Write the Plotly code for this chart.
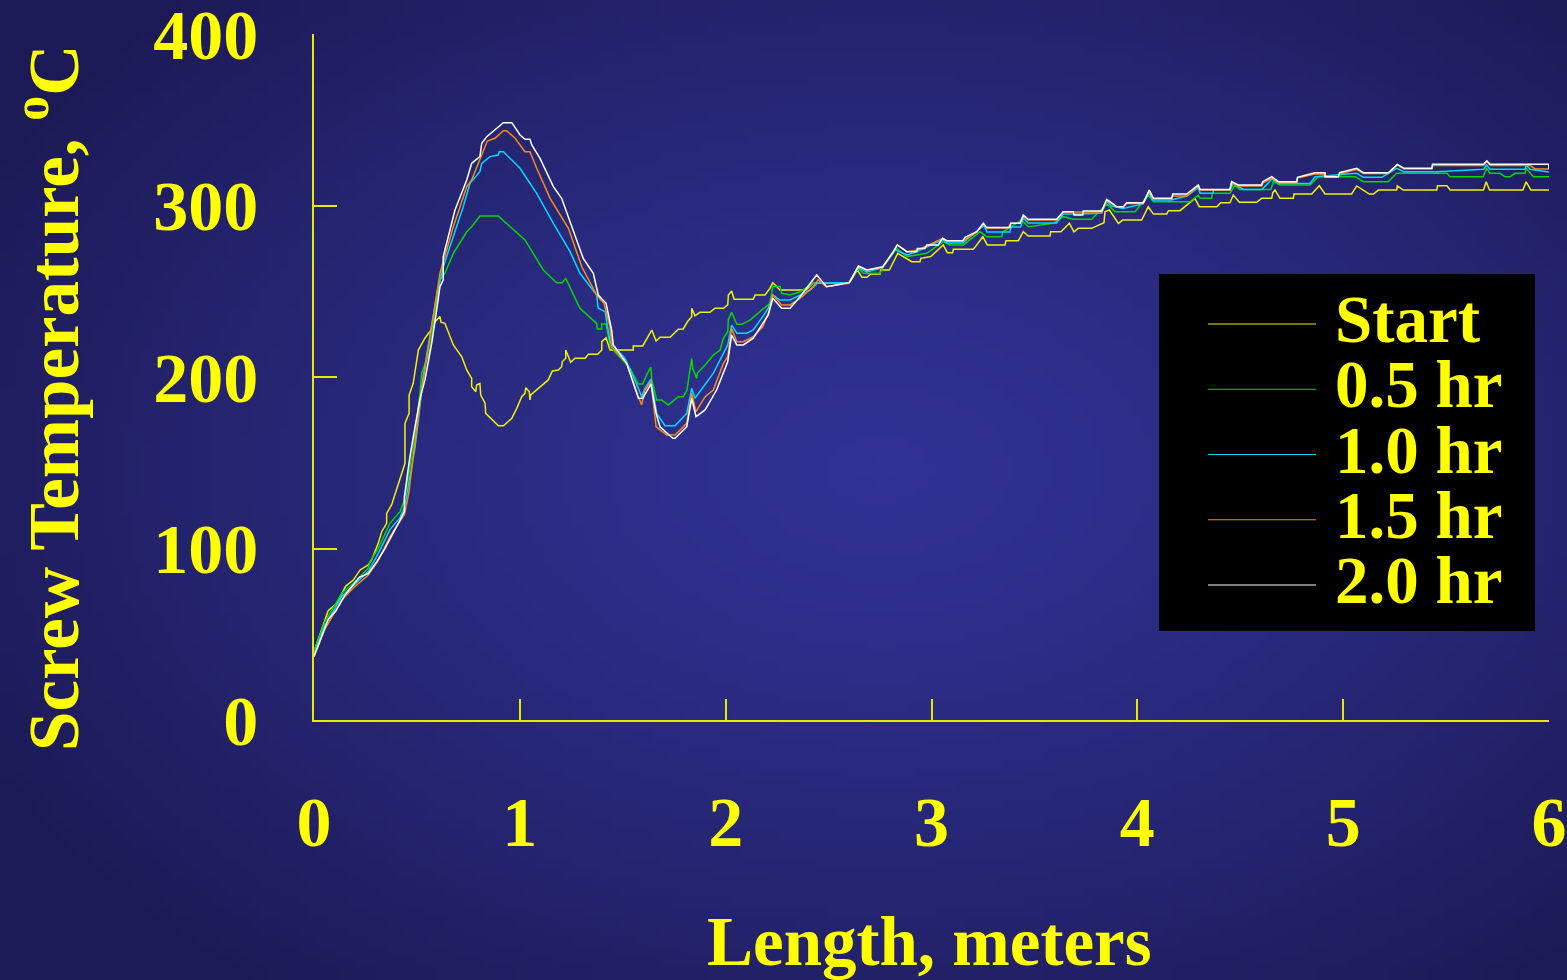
import base64
import struct
import zlib

import plotly.graph_objects as go

# ---------------------------------------------------------------- data
# Screw temperature (deg C) along the screw length (m) for successive times.
SERIES_NAMES = ["Start", "0.5 hr", "1.0 hr", "1.5 hr", "2.0 hr"]
SERIES_COLORS = ["#f2f200", "#00d800", "#00d8ff", "#ff8a10", "#ffffff"]

START = [
    (0.000, 40.0), (0.069, 63.7), (0.113, 68.4), (0.154, 78.1), (0.191, 81.6), (0.224, 87.5), (0.264, 90.4),
    (0.280, 93.3), (0.312, 103.0), (0.329, 109.8), (0.353, 114.7), (0.353, 120.5), (0.377, 125.4), (0.426, 142.9),
    (0.442, 149.7), (0.442, 173.0), (0.462, 178.8), (0.462, 189.5), (0.482, 196.3), (0.507, 215.7), (0.539, 222.6),
    (0.572, 228.0), (0.588, 232.2), (0.612, 235.2), (0.617, 232.0), (0.636, 231.3), (0.677, 218.7), (0.718, 211.8),
    (0.742, 204.1), (0.766, 199.2), (0.766, 194.3), (0.786, 191.4), (0.790, 195.3), (0.806, 196.3), (0.810, 189.5),
    (0.831, 184.7), (0.834, 178.8), (0.896, 171.6), (0.920, 171.6), (0.961, 175.9), (0.985, 181.7), (1.009, 188.5),
    (1.025, 190.5), (1.029, 193.8), (1.046, 191.4), (1.049, 186.6), (1.053, 189.5), (1.138, 198.3), (1.158, 203.5),
    (1.187, 204.1), (1.203, 206.0), (1.206, 208.9), (1.223, 210.9), (1.223, 215.7), (1.236, 211.5), (1.247, 208.6),
    (1.268, 210.9), (1.317, 210.9), (1.333, 213.2), (1.378, 213.2), (1.398, 215.7), (1.398, 220.6), (1.419, 222.9),
    (1.438, 215.7), (1.551, 215.7), (1.551, 218.1), (1.597, 218.1), (1.641, 227.4), (1.662, 221.0), (1.681, 223.2),
    (1.730, 223.2), (1.770, 227.8), (1.794, 228.0), (1.814, 232.2), (1.835, 235.2), (1.835, 240.1), (1.851, 235.7),
    (1.875, 237.7), (1.924, 237.7), (1.948, 240.1), (1.989, 240.1), (2.010, 242.0), (2.013, 247.8), (2.029, 250.1),
    (2.041, 245.3), (2.134, 245.3), (2.143, 247.8), (2.191, 247.8), (2.215, 251.7), (2.229, 255.0), (2.264, 250.7),
    (2.390, 250.7), (2.424, 254.6), (2.601, 255.0), (2.640, 262.4), (2.662, 258.1), (2.686, 258.1), (2.705, 260.1),
    (2.750, 260.1), (2.753, 262.4), (2.795, 262.4), (2.815, 267.2), (2.836, 272.1), (2.904, 267.2), (2.944, 267.2),
    (2.948, 269.2), (2.996, 270.2), (3.057, 277.0), (3.077, 272.5), (3.103, 272.5), (3.106, 274.5), (3.203, 274.5),
    (3.211, 275.6), (3.249, 281.8), (3.271, 277.0), (3.357, 277.0), (3.362, 279.5), (3.422, 279.5), (3.446, 284.7),
    (3.470, 282.2), (3.576, 282.2), (3.579, 284.7), (3.629, 284.7), (3.670, 289.6), (3.692, 284.7), (3.713, 286.7),
    (3.778, 286.7), (3.838, 290.0), (3.843, 296.4), (3.864, 297.4), (3.908, 289.6), (3.929, 291.5), (4.021, 291.5),
    (4.053, 299.3), (4.078, 295.0), (4.143, 295.0), (4.151, 297.0), (4.207, 297.0), (4.253, 301.6), (4.280, 304.2),
    (4.301, 299.3), (4.386, 299.3), (4.405, 301.6), (4.450, 301.6), (4.466, 306.1), (4.496, 301.9), (4.580, 301.9),
    (4.604, 304.2), (4.653, 304.2), (4.658, 307.5), (4.669, 309.0), (4.693, 304.2), (4.758, 304.2), (4.761, 306.7),
    (4.847, 306.7), (4.884, 311.5), (4.912, 306.7), (5.041, 306.7), (5.066, 311.4), (5.098, 309.0), (5.127, 306.7),
    (5.147, 306.7), (5.171, 309.0), (5.260, 309.0), (5.263, 311.5), (5.292, 309.0), (5.455, 309.0), (5.458, 311.5),
    (5.504, 311.5), (5.520, 309.0), (5.682, 309.0), (5.695, 313.8), (5.711, 309.0), (5.873, 309.0), (5.889, 313.8),
    (5.912, 309.0), (6.000, 309.0),
]

HR_05 = [
    (0.000, 40.0), (0.053, 57.3), (0.135, 73.9), (0.191, 79.7), (0.264, 88.5), (0.272, 92.3), (0.312, 100.1),
    (0.369, 114.7), (0.418, 121.5), (0.439, 128.3), (0.458, 141.9), (0.482, 159.4), (0.499, 174.9), (0.515, 190.5),
    (0.523, 202.2), (0.560, 214.0), (0.585, 235.0), (0.612, 256.6), (0.636, 260.5), (0.677, 272.1), (0.742, 284.7),
    (0.766, 287.6), (0.806, 293.9), (0.895, 293.9), (1.025, 279.9), (1.074, 270.2), (1.114, 262.4), (1.179, 255.0),
    (1.206, 255.0), (1.223, 257.5), (1.292, 240.1), (1.373, 231.3), (1.376, 228.0), (1.398, 228.0), (1.398, 230.9),
    (1.419, 230.9), (1.438, 218.7), (1.454, 215.7), (1.535, 205.1), (1.576, 195.9), (1.597, 195.9), (1.616, 201.2),
    (1.637, 205.7), (1.641, 198.3), (1.665, 186.6), (1.689, 186.6), (1.721, 183.7), (1.770, 188.5), (1.794, 188.5),
    (1.812, 192.4), (1.835, 210.9), (1.840, 205.1), (1.859, 199.2), (1.862, 202.2), (1.900, 207.0), (1.940, 212.8),
    (1.973, 215.7), (1.989, 222.6), (2.010, 226.4), (2.013, 233.6), (2.029, 237.7), (2.054, 230.7), (2.078, 230.7),
    (2.118, 233.2), (2.199, 241.0), (2.215, 243.0), (2.229, 252.7), (2.264, 252.7), (2.272, 248.8), (2.313, 247.8),
    (2.361, 249.7), (2.426, 254.6), (2.450, 255.0), (2.599, 255.0), (2.644, 263.4), (2.669, 260.5), (2.750, 260.5),
    (2.766, 264.3), (2.831, 275.0), (2.880, 270.2), (2.977, 272.1), (3.057, 278.9), (3.090, 277.0), (3.155, 277.0),
    (3.236, 284.7), (3.268, 281.8), (3.341, 281.8), (3.347, 284.7), (3.438, 291.5), (3.470, 287.6), (3.592, 289.6),
    (3.640, 293.5), (3.689, 292.0), (3.778, 292.0), (3.851, 300.9), (3.875, 298.4), (3.892, 296.4), (3.989, 296.4),
    (4.053, 306.1), (4.078, 302.2), (4.256, 302.2), (4.296, 306.0), (4.305, 304.2), (4.361, 304.2), (4.365, 307.1),
    (4.450, 307.1), (4.474, 311.9), (4.498, 309.4), (4.649, 309.4), (4.661, 313.9), (4.693, 312.0), (4.839, 312.0),
    (4.879, 316.8), (5.058, 316.8), (5.098, 313.9), (5.219, 313.9), (5.260, 318.8), (5.504, 318.8), (5.520, 316.8),
    (5.680, 316.8), (5.697, 321.7), (5.713, 318.8), (5.762, 318.8), (5.786, 316.8), (5.811, 316.8), (5.835, 318.8),
    (5.884, 318.8), (5.889, 321.7), (5.924, 316.8), (6.000, 316.8),
]

HR_10 = [
    (0.000, 38.0), (0.053, 55.0), (0.135, 72.0), (0.191, 78.5), (0.264, 86.5), (0.312, 97.0), (0.369, 111.0),
    (0.418, 118.0), (0.440, 124.0), (0.460, 138.0), (0.490, 158.0), (0.510, 178.0), (0.530, 200.0), (0.560, 222.0),
    (0.600, 250.0), (0.628, 264.3), (0.677, 281.8), (0.725, 299.3), (0.758, 312.9), (0.806, 319.7), (0.815, 324.6),
    (0.855, 328.5), (0.895, 329.4), (0.900, 331.4), (0.920, 331.4), (1.001, 321.7), (1.033, 315.9), (1.082, 307.1),
    (1.163, 289.6), (1.244, 273.1), (1.292, 260.5), (1.373, 247.8), (1.381, 240.1), (1.414, 238.1), (1.438, 220.6),
    (1.511, 210.9), (1.576, 193.4), (1.592, 188.5), (1.608, 193.4), (1.637, 198.7), (1.665, 178.8), (1.705, 171.6),
    (1.754, 171.6), (1.811, 178.8), (1.835, 193.4), (1.851, 187.6), (1.940, 202.2), (1.992, 214.8), (2.010, 218.7),
    (2.029, 230.3), (2.054, 225.5), (2.102, 225.5), (2.134, 227.4), (2.180, 235.2), (2.207, 240.1), (2.229, 247.8),
    (2.264, 244.9), (2.313, 244.9), (2.410, 250.7), (2.449, 255.0), (2.599, 255.0), (2.644, 263.6), (2.686, 261.2),
    (2.760, 263.6), (2.823, 274.1), (2.881, 271.1), (2.930, 273.1), (2.977, 275.8), (3.054, 280.2), (3.075, 278.1),
    (3.152, 278.1), (3.226, 285.7), (3.255, 288.3), (3.270, 284.5), (3.381, 284.5), (3.386, 287.5), (3.433, 287.5),
    (3.446, 292.7), (3.470, 289.8), (3.608, 289.8), (3.640, 295.0), (3.736, 295.0), (3.827, 295.6), (3.851, 302.6),
    (3.875, 299.7), (3.930, 298.3), (4.028, 300.9), (4.057, 307.3), (4.076, 303.2), (4.167, 303.2), (4.240, 305.5),
    (4.295, 310.2), (4.305, 307.1), (4.369, 307.1), (4.369, 309.0), (4.450, 309.0), (4.466, 312.9), (4.515, 309.4),
    (4.606, 309.4), (4.653, 315.3), (4.693, 312.9), (4.839, 312.9), (4.863, 316.8), (5.066, 318.8), (5.098, 316.4),
    (5.188, 316.4), (5.260, 321.7), (5.296, 319.7), (5.455, 319.7), (5.682, 321.1), (5.697, 323.6), (5.713, 321.1),
    (5.884, 321.1), (5.889, 323.6), (5.908, 321.1), (6.000, 319.5),
]

HR_15 = [
    (0.000, 37.0), (0.053, 53.0), (0.135, 70.0), (0.191, 77.0), (0.264, 84.5), (0.312, 93.0), (0.369, 107.0),
    (0.418, 116.0), (0.440, 120.0), (0.460, 132.0), (0.480, 152.0), (0.500, 170.0), (0.520, 190.0), (0.550, 213.0),
    (0.580, 236.0), (0.612, 260.5), (0.677, 287.6), (0.742, 311.0), (0.766, 314.9), (0.806, 326.5), (0.842, 337.6),
    (0.879, 339.2), (0.920, 343.6), (0.936, 343.6), (0.977, 339.2), (1.001, 335.3), (1.025, 331.4), (1.049, 331.4),
    (1.082, 321.7), (1.147, 304.2), (1.236, 286.7), (1.301, 264.3), (1.373, 247.8), (1.409, 243.0), (1.438, 229.3),
    (1.446, 217.7), (1.519, 208.0), (1.576, 188.5), (1.592, 183.7), (1.608, 192.4), (1.637, 197.3), (1.662, 171.0),
    (1.714, 166.2), (1.754, 166.2), (1.811, 173.0), (1.835, 190.5), (1.856, 179.8), (1.900, 188.5), (1.940, 192.4),
    (1.989, 208.0), (2.010, 211.8), (2.029, 228.3), (2.054, 220.6), (2.086, 220.6), (2.134, 223.5), (2.180, 229.3),
    (2.207, 237.1), (2.229, 247.8), (2.272, 242.0), (2.313, 242.0), (2.361, 245.9), (2.426, 252.7), (2.449, 256.6),
    (2.488, 252.7), (2.599, 254.8), (2.644, 264.4), (2.686, 262.4), (2.763, 263.8), (2.815, 273.1), (2.834, 277.0),
    (2.880, 273.1), (2.930, 274.1), (2.977, 276.4), (3.054, 280.8), (3.074, 279.3), (3.152, 279.3), (3.220, 284.5),
    (3.252, 289.2), (3.268, 286.9), (3.372, 286.9), (3.385, 289.6), (3.430, 289.6), (3.446, 293.9), (3.470, 291.5),
    (3.608, 291.5), (3.640, 296.2), (3.827, 296.2), (3.851, 303.2), (3.875, 301.2), (3.900, 299.1), (3.932, 299.1),
    (3.948, 301.2), (4.029, 301.2), (4.058, 308.5), (4.078, 303.8), (4.167, 303.8), (4.172, 305.5), (4.240, 305.5),
    (4.296, 311.4), (4.305, 309.0), (4.450, 309.0), (4.458, 313.4), (4.490, 311.4), (4.604, 311.4), (4.609, 313.1),
    (4.653, 316.0), (4.685, 313.4), (4.775, 313.4), (4.778, 316.0), (4.863, 318.4), (4.912, 318.4), (4.912, 316.6),
    (4.977, 316.6), (4.982, 318.4), (5.066, 321.0), (5.098, 318.7), (5.219, 318.7), (5.263, 323.6), (5.296, 321.3),
    (5.431, 321.3), (5.434, 323.3), (5.682, 323.3), (5.698, 325.6), (5.714, 323.3), (5.909, 323.3), (5.933, 321.3),
    (6.000, 321.3),
]

HR_20 = [
    (0.000, 37.0), (0.069, 58.7), (0.107, 63.7), (0.151, 72.9), (0.220, 83.2), (0.264, 85.5), (0.305, 92.3),
    (0.345, 100.1), (0.418, 116.6), (0.439, 121.5), (0.439, 130.2), (0.466, 153.5), (0.491, 171.0), (0.515, 187.4),
    (0.539, 198.3), (0.572, 219.7), (0.596, 239.1), (0.612, 252.7), (0.628, 256.6), (0.628, 270.2), (0.685, 297.4),
    (0.742, 314.9), (0.766, 324.6), (0.806, 328.5), (0.815, 336.3), (0.839, 340.1), (0.920, 348.3), (0.961, 348.3),
    (1.001, 341.1), (1.025, 338.6), (1.049, 338.6), (1.058, 335.3), (1.098, 327.5), (1.163, 311.0), (1.203, 304.2),
    (1.308, 269.2), (1.357, 260.5), (1.381, 247.8), (1.419, 243.0), (1.446, 227.4), (1.454, 218.7), (1.519, 208.0),
    (1.576, 187.6), (1.597, 187.6), (1.637, 195.9), (1.662, 178.8), (1.681, 171.0), (1.743, 164.3), (1.754, 164.3),
    (1.811, 171.0), (1.835, 187.6), (1.856, 176.9), (1.900, 180.8), (1.956, 192.4), (2.010, 208.9), (2.029, 224.5),
    (2.054, 218.7), (2.086, 218.7), (2.134, 222.6), (2.207, 236.2), (2.229, 245.9), (2.272, 240.1), (2.313, 240.1),
    (2.361, 246.8), (2.442, 259.5), (2.491, 252.7), (2.601, 255.0), (2.645, 264.7), (2.686, 262.4), (2.763, 264.3),
    (2.815, 273.1), (2.834, 277.0), (2.880, 273.1), (2.928, 273.1), (2.931, 275.0), (2.968, 275.0), (2.977, 277.0),
    (3.033, 277.0), (3.054, 280.9), (3.074, 279.5), (3.152, 279.5), (3.163, 281.5), (3.220, 284.7), (3.252, 289.6),
    (3.268, 287.1), (3.381, 287.1), (3.385, 289.6), (3.430, 289.6), (3.446, 294.5), (3.470, 292.0), (3.608, 292.0),
    (3.640, 296.4), (3.689, 296.4), (3.692, 294.5), (3.735, 294.5), (3.737, 296.8), (3.827, 296.8), (3.851, 303.6),
    (3.875, 301.6), (3.900, 299.3), (3.932, 299.3), (3.948, 301.6), (4.029, 301.6), (4.058, 309.0), (4.078, 304.2),
    (4.167, 304.2), (4.172, 306.7), (4.240, 306.7), (4.296, 312.0), (4.305, 309.4), (4.450, 309.4), (4.458, 313.9),
    (4.490, 312.0), (4.604, 312.0), (4.609, 313.9), (4.653, 316.8), (4.685, 313.9), (4.775, 313.9), (4.778, 316.4),
    (4.863, 319.1), (4.912, 319.1), (4.912, 316.8), (4.977, 316.8), (4.982, 319.1), (5.066, 321.7), (5.098, 319.1),
    (5.219, 319.1), (5.263, 324.0), (5.296, 321.7), (5.431, 321.7), (5.434, 324.0), (5.682, 324.0), (5.698, 326.1),
    (5.714, 324.0), (5.998, 324.0), (6.000, 321.3),
]

SERIES = [START, HR_05, HR_10, HR_15, HR_20]

X_TICKS = [0, 1, 2, 3, 4, 5, 6]
Y_TICKS = [0, 100, 200, 300, 400]

# ---------------------------------------------------------------- styling
W, H = 1567, 980
M_L, M_R, M_T, M_B = 314, 18, 34, 260
PLOT_W = W - M_L - M_R
PLOT_H = H - M_T - M_B

YELLOW = "#ffff00"
AXIS_YELLOW = "#e8e800"
FONT = "Liberation Serif, Times New Roman, serif"


def px_to_paper_x(px):
    return (px - M_L) / PLOT_W


def px_to_paper_y(py):
    return (H - M_B - py) / PLOT_H


def radial_background_png(w, h):
    """Small PNG with a soft radial blue glow, stretched over the page."""
    c_in = (48, 50, 148)
    c_out = (28, 26, 86)
    cx, cy, rx, ry = 880.0, 470.0, 1000.0, 660.0
    raw = bytearray()
    for j in range(h):
        raw.append(0)
        for i in range(w):
            dx = ((i + 0.5) / w * W - cx) / rx
            dy = ((j + 0.5) / h * H - cy) / ry
            t = min(1.0, (dx * dx + dy * dy) ** 0.5) ** 1.3
            raw.extend(int(round(a + (b - a) * t)) for a, b in zip(c_in, c_out))

    def chunk(tag, data):
        return (struct.pack(">I", len(data)) + tag + data
                + struct.pack(">I", zlib.crc32(tag + data) & 0xFFFFFFFF))

    png = (b"\x89PNG\r\n\x1a\n"
           + chunk(b"IHDR", struct.pack(">IIBBBBB", w, h, 8, 2, 0, 0, 0))
           + chunk(b"IDAT", zlib.compress(bytes(raw), 9))
           + chunk(b"IEND", b""))
    return "data:image/png;base64," + base64.b64encode(png).decode("ascii")


fig = go.Figure()

for name, color, pts in zip(SERIES_NAMES, SERIES_COLORS, SERIES):
    xs, ys = zip(*pts)
    fig.add_trace(go.Scatter(
        x=list(xs), y=list(ys), mode="lines", name=name,
        line=dict(color=color, width=1.5), showlegend=False, hoverinfo="skip",
    ))

tick_font = dict(family=FONT, size=70, color=YELLOW, weight="bold")

fig.update_xaxes(
    range=[0, 6], tickvals=X_TICKS, ticktext=[str(v) for v in X_TICKS],
    showline=True, linecolor=AXIS_YELLOW, linewidth=1.5,
    ticks="inside", ticklen=21, tickwidth=1.5, tickcolor=AXIS_YELLOW,
    showgrid=False, zeroline=False, tickfont=tick_font, ticklabelstandoff=40,
    ticklabeloverflow="allow", automargin=False,
)
fig.update_yaxes(
    range=[0, 400], tickvals=Y_TICKS, ticktext=[str(v) for v in Y_TICKS],
    showline=True, linecolor=AXIS_YELLOW, linewidth=1.5,
    ticks="inside", ticklen=23, tickwidth=1.5, tickcolor=AXIS_YELLOW,
    showgrid=False, zeroline=False, tickfont=tick_font, ticklabelstandoff=40,
    ticklabeloverflow="allow", automargin=False,
)

annotations = [
    dict(text="Screw Temperature, <sup>o</sup>C", textangle=-90,
         xref="paper", yref="paper", x=px_to_paper_x(49), y=px_to_paper_y(398),
         xanchor="center", yanchor="middle", showarrow=False,
         font=dict(family=FONT, size=71, color=YELLOW, weight="bold")),
    dict(text="Length, meters",
         xref="paper", yref="paper", x=px_to_paper_x(929), y=px_to_paper_y(942),
         xanchor="center", yanchor="middle", showarrow=False,
         font=dict(family=FONT, size=69, color=YELLOW, weight="bold")),
]

# Legend panel: black box, sample strokes and labels
shapes = [dict(type="rect", xref="paper", yref="paper", layer="above",
               x0=px_to_paper_x(1159), x1=px_to_paper_x(1535),
               y0=px_to_paper_y(631), y1=px_to_paper_y(274),
               fillcolor="#000000", line=dict(width=0))]

row_top, row_step = 324, 65.25
for k, (name, color) in enumerate(zip(SERIES_NAMES, SERIES_COLORS)):
    ly = row_top + k * row_step
    shapes.append(dict(type="line", xref="paper", yref="paper", layer="above",
                       x0=px_to_paper_x(1208), x1=px_to_paper_x(1316),
                       y0=px_to_paper_y(ly), y1=px_to_paper_y(ly),
                       line=dict(color=color, width=1.2)))
    annotations.append(dict(text=name, xref="paper", yref="paper",
                            x=px_to_paper_x(1333), y=px_to_paper_y(ly - 5),
                            xanchor="left", yanchor="middle", showarrow=False,
                            height=62, valign="middle",
                            font=dict(family=FONT, size=67, color=YELLOW, weight="bold")))

fig.update_layout(
    width=W, height=H,
    margin=dict(l=M_L, r=M_R, t=M_T, b=M_B, pad=0),
    paper_bgcolor="#1e1c5c", plot_bgcolor="rgba(0,0,0,0)",
    showlegend=False,
    annotations=annotations, shapes=shapes,
    images=[dict(source=radial_background_png(160, 100),
                 xref="paper", yref="paper",
                 x=-M_L / PLOT_W, y=1 + M_T / PLOT_H,
                 sizex=W / PLOT_W, sizey=H / PLOT_H,
                 xanchor="left", yanchor="top",
                 sizing="stretch", layer="below")],
)

fig.write_html("out.html")
